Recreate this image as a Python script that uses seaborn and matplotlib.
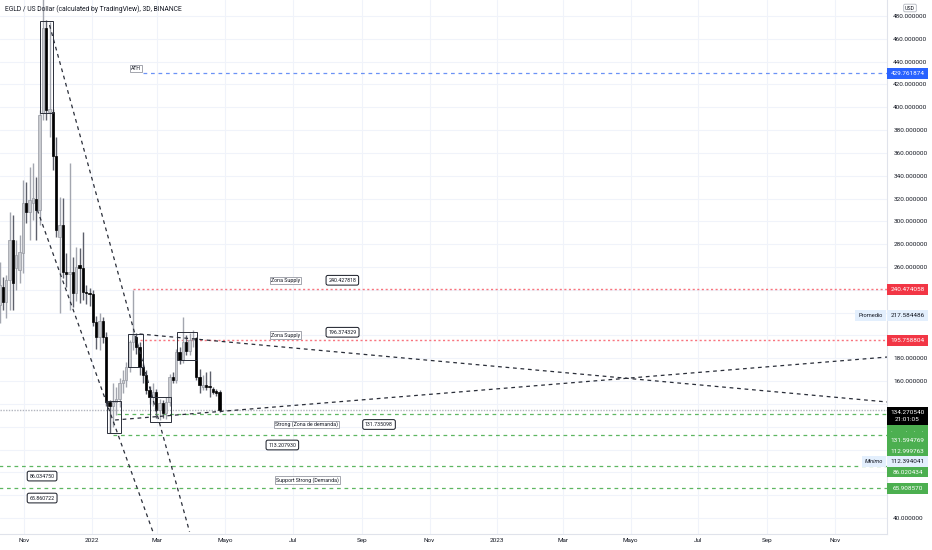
import matplotlib
matplotlib.use('Agg')
import matplotlib.pyplot as plt
import matplotlib.dates as mdates
import matplotlib.font_manager as fm
import matplotlib.transforms as mtransforms
from matplotlib.patches import Rectangle
import numpy as np
import pandas as pd
import seaborn as sns

# ---------------------------------------------------------
# DATA (EGLD / USD, 3D candles)
# ---------------------------------------------------------
last_bar = '2022-04-26'
opens = [226.7, 242.5, 229.3, 248.6, 283.7, 259.1, 257.4, 272.0, 316.1, 308.2,
         316.1, 319.6, 310.0, 395.0, 469.5, 396.0, 396.0, 357.3, 286.3, 296.8,
         255.6, 253.9, 255.6, 237.2, 261.8, 259.1, 238.1, 237.2, 236.4, 211.8,
         198.7, 213.0, 198.7, 141.7, 138.0, 141.7, 144.0, 158.3, 161.0, 172.4,
         194.3, 198.7, 189.9, 172.4, 165.4, 152.2, 146.1, 150.5, 134.7, 141.0,
         132.1, 141.7, 163.6, 161.0, 185.5, 178.5, 194.3, 186.4, 196.0, 197.8,
         163.6, 154.8, 156.6, 156.0, 153.0, 151.5, 150.5]
highs = [264.4, 251.3, 253.0, 308.2, 305.6, 283.7, 288.0, 336.3, 334.5, 347.7,
         351.2, 338.9, 397.6, 545.0, 476.5, 474.7, 398.5, 374.0, 321.4, 320.5,
         272.3, 351.2, 268.8, 277.5, 277.0, 290.7, 244.0, 242.0, 240.0, 217.0,
         220.0, 216.0, 203.0, 143.4, 158.3, 155.0, 162.7, 169.7, 176.8, 196.0,
         239.9, 202.0, 194.0, 176.0, 170.0, 156.0, 158.0, 153.0, 144.0, 143.0,
         146.0, 166.0, 168.0, 188.0, 190.0, 216.2, 200.0, 202.0, 205.0, 199.0,
         171.0, 165.0, 168.0, 169.0, 155.0, 153.0, 152.0]
lows = [210.9, 222.3, 215.3, 222.3, 222.3, 239.9, 246.0, 255.0, 298.6, 283.7,
        301.2, 283.7, 297.0, 388.8, 388.8, 374.0, 345.0, 286.3, 219.7, 250.0,
        242.5, 222.3, 225.0, 230.0, 228.5, 231.1, 228.0, 226.0, 208.0, 188.0,
        187.3, 193.0, 138.0, 114.5, 119.8, 130.3, 137.3, 150.0, 155.0, 168.0,
        187.3, 184.0, 165.0, 158.0, 149.0, 140.0, 138.0, 128.0, 126.0, 127.7,
        127.0, 138.0, 158.0, 158.0, 175.0, 176.0, 183.0, 183.0, 190.0, 161.0,
        150.0, 152.0, 152.0, 146.1, 149.0, 147.0, 133.0]
closes = [244.2, 229.3, 248.6, 283.7, 246.0, 270.5, 273.2, 316.1, 308.2, 318.7,
          320.5, 310.0, 393.2, 469.5, 397.6, 398.5, 357.3, 292.4, 296.8, 255.6,
          253.9, 255.6, 237.2, 260.0, 259.1, 238.1, 237.2, 236.4, 211.8, 198.7,
          213.0, 198.7, 141.7, 138.0, 141.7, 144.0, 158.3, 161.0, 172.4, 194.3,
          200.4, 189.9, 172.4, 165.4, 152.2, 146.1, 150.5, 134.7, 141.0, 132.1,
          141.7, 163.6, 161.0, 185.5, 178.5, 194.3, 186.4, 196.0, 197.8, 163.6,
          156.6, 156.6, 155.0, 154.5, 150.5, 150.0, 134.27]

# horizontal levels drawn on the chart
level_values = [429.761874, 240.474058, 195.758804, 131.594769, 112.999763, 86.020434, 65.908570]
level_starts = ['2022-02-16', '2022-02-07', '2022-02-13', '2022-01-24', '2022-01-20', '2021-09-01', '2021-09-01']
level_kinds = ['ath', 'supply', 'supply', 'demand', 'demand', 'demand', 'demand']

# trend lines
trend_starts = ['2021-11-13', '2021-11-24', '2022-02-13', '2022-01-22']
trend_ends = ['2022-02-25', '2022-03-30', '2023-12-18', '2023-12-18']
trend_p0 = [310.0, 472.0, 201.3, 125.9]
trend_p1 = [28.0, 28.0, 141.7, 181.1]

# rectangles
rect_starts = ['2021-11-15', '2022-01-15', '2022-02-03', '2022-02-22', '2022-03-19']
rect_ends = ['2021-11-27', '2022-01-27', '2022-02-16', '2022-03-13', '2022-04-06']
rect_lows = [395.0, 114.5, 172.4, 124.2, 178.5]
rect_highs = [475.6, 142.6, 201.3, 146.1, 203.0]

# text labels on the chart
label_texts = ['Zona Supply', '240.427818', 'Zona Supply', '196.374329',
               'Strong (Zona de demanda)', '131.735098', '113.207930',
               '86.034750', '65.860722', 'Support Strong (Demanda)']
label_dates = ['2022-06-11', '2022-08-02', '2022-06-11', '2022-08-02',
               '2022-06-15', '2022-09-04', '2022-06-09',
               '2021-11-06', '2021-11-06', '2022-06-16']
label_levels = [240.474058, 240.474058, 195.758804, 195.758804,
                131.594769, 131.594769, 112.999763,
                86.020434, 65.908570, 86.020434]
label_boxed = [False, True, False, True, False, True, True, True, True, False]

# price scale tags
tag_values = [429.761874, 240.474058, 217.584486, 195.758804, 134.270540, 131.735098,
              131.594769, 112.999763, 112.394041, 86.020434, 65.908570]
tag_texts = ['429.761874', '240.474058', '217.584486', '195.758804', '134.270540\n21:01:05',
             '.        .    .    .', '131.594769', '112.999763', '112.394041', '86.020434', '65.908570']
tag_kinds = ['ath', 'supply', 'avg', 'supply', 'last', 'demand', 'demand', 'demand', 'min', 'demand', 'demand']
tag_side = {'avg': 'Promedio', 'min': 'Mínimo'}

price_ticks = list(range(40, 481, 20))
month_ticks = ['2021-11-01', '2022-01-01', '2022-03-01', '2022-05-01', '2022-07-01', '2022-09-01',
               '2022-11-01', '2023-01-01', '2023-03-01', '2023-05-01', '2023-07-01', '2023-09-01',
               '2023-11-01']
month_labels = ['Nov', '2022', 'Mar', 'Mayo', 'Jul', 'Sep', 'Nov', '2023', 'Mar', 'Mayo', 'Jul', 'Sep', 'Nov']

title = 'EGLD / US Dollar (calculated by TradingView), 3D, BINANCE'

# ---------------------------------------------------------
# STYLE
# ---------------------------------------------------------
sns.set_theme(style='white')
avail = {f.name for f in fm.fontManager.ttflist}
if 'Liberation Sans Narrow' in avail:
    FONT, k = 'Liberation Sans Narrow', 1.0
else:
    FONT, k = 'Roboto', 0.82
plt.rcParams['font.family'] = [FONT, 'DejaVu Sans']

TXT = '#131722'
GRID = '#f0f3fa'
BORDER = '#e0e3eb'
colors = {'ath': '#2962ff', 'supply': '#f23645', 'demand': '#4caf50',
          'last': '#000000', 'avg': '#e3effd', 'min': '#e3effd'}
line_colors = {'ath': '#5b86f5', 'supply': '#f7525f', 'demand': '#4caf50'}

W, H = 932, 550
PLOT_W, PLOT_H = 887, 534
fig = plt.figure(figsize=(W / 100, H / 100), dpi=100)
ax = fig.add_axes([0, (H - PLOT_H) / H, PLOT_W / W, PLOT_H / H])

nov1 = mdates.date2num(pd.Timestamp('2021-11-01'))
px_day = 1.111
x_left = nov1 - 24 / px_day
x_right = x_left + PLOT_W / px_day
y_low, y_high = 26.0, 494.0
ppu = PLOT_H / (y_high - y_low)

# grid
for d in month_ticks:
    ax.axvline(mdates.date2num(pd.Timestamp(d)), color=GRID, lw=0.8, zorder=0)
for p in price_ticks:
    ax.axhline(p, color=GRID, lw=0.8, zorder=0)

# ---------------------------------------------------------
# LEVELS, CURRENT PRICE LINE
# ---------------------------------------------------------
styles = {'ath': (0, (3, 3)), 'supply': (0, (1.5, 1.8)), 'demand': (0, (3, 3))}
for val, start, kind in zip(level_values, level_starts, level_kinds):
    ax.hlines(val, mdates.date2num(pd.Timestamp(start)), x_right, color=line_colors[kind],
              ls=styles[kind], lw=0.9 if kind != 'supply' else 1.0,
              alpha=0.8 if kind == 'supply' else 0.9, zorder=1)
ax.axhline(closes[-1], color='#b2b5be', ls=(0, (1, 1)), lw=1.0, zorder=1)

# ---------------------------------------------------------
# CANDLES
# ---------------------------------------------------------
dates = pd.date_range(end=last_bar, periods=len(opens), freq='3D')
x = mdates.date2num(dates)
o, h, l, c = map(np.array, (opens, highs, lows, closes))
up = c >= o
dn = ~up
ax.vlines(x[up], l[up], h[up], color='#a3a6af', lw=1.0, zorder=3)
ax.vlines(x[dn], l[dn], h[dn], color='#5d606b', lw=1.0, zorder=3)
ax.bar(x[up], np.maximum(c - o, 0.9)[up], bottom=o[up], width=2.2,
       color='#c9cbd0', edgecolor='#94979f', linewidth=0.5, zorder=4)
ax.bar(x[dn], np.maximum(o - c, 0.9)[dn], bottom=c[dn], width=2.2,
       color='#000000', edgecolor='#000000', linewidth=0.5, zorder=4)

# ---------------------------------------------------------
# DRAWINGS
# ---------------------------------------------------------
for d0, d1, p0, p1 in zip(trend_starts, trend_ends, trend_p0, trend_p1):
    ax.plot(mdates.date2num([pd.Timestamp(d0), pd.Timestamp(d1)]), [p0, p1],
            color='#2a2e39', ls=(0, (3, 3)), lw=0.9, zorder=5)

for d0, d1, lo, hi in zip(rect_starts, rect_ends, rect_lows, rect_highs):
    x0 = mdates.date2num(pd.Timestamp(d0))
    x1 = mdates.date2num(pd.Timestamp(d1))
    ax.add_patch(Rectangle((x0, lo), x1 - x0, hi - lo, fill=False,
                           ec='#2a2e39', lw=0.7, zorder=5))

# ATH label sits right at the start of its line
ax.annotate('ATH', xy=(mdates.date2num(pd.Timestamp(level_starts[0])), level_values[0]),
            xytext=(-1.5, 3.2), textcoords='offset points', ha='right', va='center',
            size=4.5 * k, color=TXT, zorder=8,
            bbox=dict(boxstyle='square,pad=0.2', fc='white', ec='#9598a1', lw=0.6))

offsets = [6.5, 6.5, 3.8, 5.8, -7.9, -7.9, -7.4, -7.6, -6.9, -10.5]
for txt, d, lvl, boxed, dy in zip(label_texts, label_dates, label_levels, label_boxed, offsets):
    if boxed:
        bb = dict(boxstyle='round,pad=0.45,rounding_size=0.35', fc='white', ec=TXT, lw=0.7)
    else:
        bb = dict(boxstyle='square,pad=0.2', fc='white', ec='#9598a1', lw=0.6)
    ax.annotate(txt, xy=(mdates.date2num(pd.Timestamp(d)), lvl), xytext=(0, dy),
                textcoords='offset points', ha='left', va='center', size=4.6 * k,
                color=TXT, zorder=8, bbox=bb)

# ---------------------------------------------------------
# PRICE SCALE TAGS (stacked so they never overlap)
# ---------------------------------------------------------
trans = mtransforms.blended_transform_factory(ax.transAxes, ax.transData)
tag_h = 10.5 / ppu
tag_w = 41 / PLOT_W
prev_bottom = np.inf
tag_spans = []
for val, txt, kind in zip(tag_values, tag_texts, tag_kinds):
    if '\n' in txt:
        top = min(val + 3.5 / ppu, prev_bottom)
        height = 18 / ppu
    else:
        top = min(val + tag_h / 2, prev_bottom)
        height = tag_h
    bottom = top - height
    tag_spans.append((bottom, top))
    fc = colors[kind]
    fg = TXT if kind in ('avg', 'min') else 'white'
    ax.add_patch(Rectangle((1.0, bottom), tag_w, height, transform=trans, fc=fc, ec='none',
                           clip_on=False, zorder=20))
    ax.text(1.0 + tag_w / 2, (top + bottom) / 2, txt, transform=trans, ha='center', va='center',
            color=fg, size=5.6 * k, zorder=21, clip_on=False, linespacing=1.3)
    if kind in tag_side:
        side_w = (31 if kind == 'avg' else 24) / PLOT_W
        ax.add_patch(Rectangle((1.0 - side_w - 1 / PLOT_W, bottom), side_w, height, transform=trans,
                               fc=fc, ec='none', clip_on=False, zorder=20))
        ax.text(1.0 - side_w / 2 - 1 / PLOT_W, (top + bottom) / 2, tag_side[kind], transform=trans,
                ha='center', va='center', color=TXT, size=5.0 * k, zorder=21,
                style='italic' if kind == 'min' else 'normal')
    prev_bottom = bottom

# ---------------------------------------------------------
# AXES
# ---------------------------------------------------------
ax.set_xlim(x_left, x_right)
ax.set_ylim(y_low, y_high)
ax.yaxis.tick_right()
ax.set_yticks(price_ticks)
# tick labels that sit under a tag are hidden, like on the price scale
half_lbl = 3.5 / ppu
tick_text = []
for p in price_ticks:
    hidden = any(b - half_lbl < p < t + half_lbl for b, t in tag_spans)
    tick_text.append('' if hidden else f'{p:.6f}')
ax.set_yticklabels(tick_text)
ax.set_xticks(mdates.date2num(pd.to_datetime(month_ticks)))
ax.set_xticklabels(month_labels)
ax.tick_params(axis='y', length=0, pad=4.5, labelsize=5.6 * k, labelcolor=TXT)
ax.tick_params(axis='x', length=0, pad=3.0, labelsize=5.6 * k, labelcolor=TXT)
for s in ('top', 'left'):
    ax.spines[s].set_visible(False)
for s in ('right', 'bottom'):
    ax.spines[s].set_color(BORDER)
    ax.spines[s].set_linewidth(0.8)

fig.text(5 / W, 1 - 9 / H, title, ha='left', va='center', size=5.9 * k, color=TXT)
fig.text(910 / W, 1 - 8 / H, 'USD', ha='center', va='center', size=4.6 * k, color=TXT,
         bbox=dict(boxstyle='round,pad=0.25', fc='white', ec='#b2b5be', lw=0.6))

fig.savefig('out.png', dpi=100)
